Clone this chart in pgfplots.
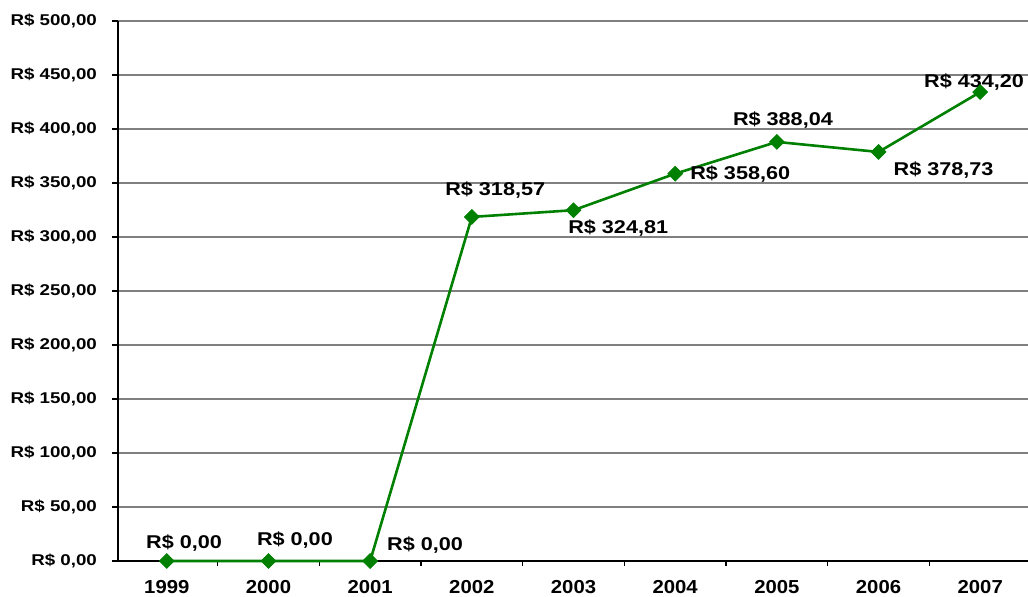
\documentclass[border=0pt]{standalone}
\usepackage{fontspec}
\setmainfont{Liberation Sans}
\usepackage{graphicx}
\usepackage{pgfplots}
\pgfplotsset{compat=1.18}
\definecolor{linegreen}{RGB}{0,128,0}
\definecolor{gridgray}{RGB}{128,128,128}
\newcommand\ylab[1]{\scalebox{1.2}[1]{R\$ #1}}
\newcommand\dlab[1]{\scalebox{1.17}[1]{R\$ #1}}
\newcommand\xlab[1]{\scalebox{1.08}[1]{#1}}
\begin{document}
\begin{tikzpicture}[font=\bfseries]
\useasboundingbox (0,0) rectangle (514pt,298.5pt);
\begin{axis}[
  at={(59pt,18pt)}, anchor=south west,
  scale only axis, width=455pt, height=270pt,
  xmin=-0.48, xmax=8.47, ymin=0, ymax=500,
  axis x line*=bottom, axis y line*=left,
  axis line style={-, black, line width=0.6pt},
  xtick={0,...,8},
  xticklabels={\xlab{1999},\xlab{2000},\xlab{2001},\xlab{2002},\xlab{2003},\xlab{2004},\xlab{2005},\xlab{2006},\xlab{2007}},
  major x tick style={draw=none},
  minor xtick={0.5,1.5,...,7.5},
  minor tick length=2.5pt,
  x tick label style={font=\fontsize{9.4}{11}\selectfont\bfseries, yshift=-3.4pt},
  ytick={0,50,...,500},
  yticklabels={{\ylab{0,00}},{\ylab{50,00}},{\ylab{100,00}},{\ylab{150,00}},{\ylab{200,00}},{\ylab{250,00}},{\ylab{300,00}},{\ylab{350,00}},{\ylab{400,00}},{\ylab{450,00}},{\ylab{500,00}}},
  y tick label style={font=\fontsize{7.8}{9}\selectfont\bfseries, xshift=-4pt},
  tick align=outside, major tick length=3pt,
  tick style={black, line width=0.6pt},
  ymajorgrids, major grid style={gridgray, line width=0.6pt},
  clip=false,
]
\addplot[linegreen, line width=1.3pt, mark=square*, mark size=2.6pt,
  mark options={rotate=45, fill=linegreen, draw=linegreen, line width=0.4pt}]
  coordinates {(0,0) (1,0) (2,0) (3,318.57) (4,324.81) (5,358.60) (6,388.04) (7,378.73) (8,434.20)};
\begin{scope}[every node/.style={font=\fontsize{9.25}{11}\selectfont\bfseries}]
\node at (axis cs:0.17,16.7) {\dlab{0,00}};
\node at (axis cs:1.26,19.4) {\dlab{0,00}};
\node at (axis cs:2.54,14.8) {\dlab{0,00}};
\node at (axis cs:3.23,343.5) {\dlab{318,57}};
\node at (axis cs:4.44,308.3) {\dlab{324,81}};
\node at (axis cs:5.64,358.3) {\dlab{358,60}};
\node at (axis cs:6.06,408.3) {\dlab{388,04}};
\node at (axis cs:7.64,362) {\dlab{378,73}};
\node at (axis cs:7.94,443.5) {\dlab{434,20}};
\end{scope}
\end{axis}
\end{tikzpicture}
\end{document}
